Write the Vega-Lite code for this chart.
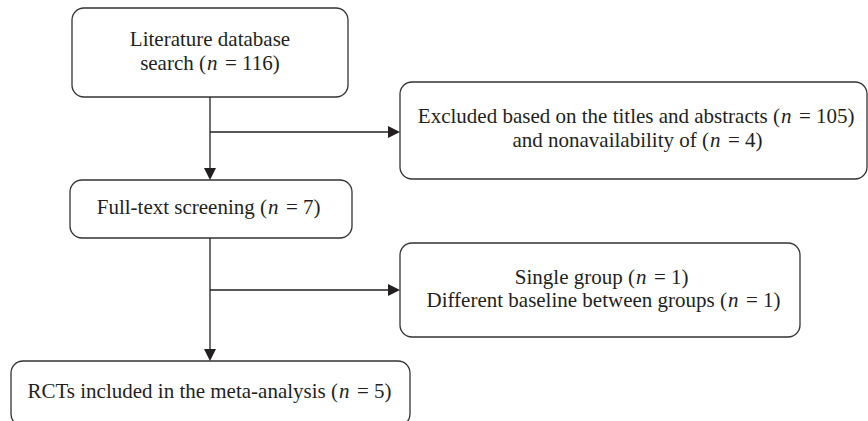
{
  "$schema": "https://vega.github.io/schema/vega-lite/v6.json",
  "width": 868,
  "height": 421,
  "padding": 0,
  "autosize": {"type": "fit", "contains": "padding"},
  "background": "white",
  "config": {"view": {"stroke": null}},
  "datasets": {
    "boxes": [
      {"id": "search", "x1": 72, "x2": 348, "y1": 8, "y2": 97},
      {"id": "excluded", "x1": 400, "x2": 867, "y1": 82, "y2": 179},
      {"id": "fulltext", "x1": 70, "x2": 352, "y1": 180, "y2": 238},
      {"id": "removed", "x1": 400, "x2": 800, "y1": 243, "y2": 337},
      {"id": "included", "x1": 11, "x2": 410, "y1": 361, "y2": 426}
    ],
    "connectors": [
      {"x1": 210, "x2": 210, "y1": 97, "y2": 178},
      {"x1": 210, "x2": 398, "y1": 132, "y2": 132},
      {"x1": 210, "x2": 210, "y1": 238, "y2": 359},
      {"x1": 210, "x2": 398, "y1": 290, "y2": 290}
    ],
    "heads": [
      {"dir": "down", "x": 210, "y": 180},
      {"dir": "right", "x": 400, "y": 132},
      {"dir": "down", "x": 210, "y": 361},
      {"dir": "right", "x": 400, "y": 290}
    ],
    "plain": [
      {"t": "Literature database", "x": 210, "y": 46}
    ],
    "mathlines": [
      {"pre": "search (", "n": "n", "post": "= 116)", "xn": 207, "y": 70},
      {"pre": "Excluded based on the titles and abstracts (", "n": "n", "post": "= 105)", "xn": 781, "y": 123},
      {"pre": "and nonavailability of (", "n": "n", "post": "= 4)", "xn": 710, "y": 147},
      {"pre": "Full-text screening (", "n": "n", "post": "= 7)", "xn": 268, "y": 214},
      {"pre": "Single group (", "n": "n", "post": "= 1)", "xn": 636, "y": 284},
      {"pre": "Different baseline between groups (", "n": "n", "post": "= 1)", "xn": 728, "y": 307},
      {"pre": "RCTs included in the meta-analysis (", "n": "n", "post": "= 5)", "xn": 339, "y": 398}
    ]
  },
  "layer": [
    {
      "data": {"name": "boxes"},
      "mark": {"type": "rect", "fill": "white", "stroke": "#333333", "strokeWidth": 1.3, "cornerRadius": 12, "clip": true},
      "encoding": {
        "x": {"field": "x1", "type": "quantitative", "scale": {"domain": [0, 868], "nice": false, "zero": false}, "axis": null},
        "x2": {"field": "x2"},
        "y": {"field": "y1", "type": "quantitative", "scale": {"domain": [0, 421], "nice": false, "zero": false, "reverse": true}, "axis": null},
        "y2": {"field": "y2"}
      }
    },
    {
      "data": {"name": "connectors"},
      "mark": {"type": "rule", "stroke": "#231f20", "strokeWidth": 1.3},
      "encoding": {
        "x": {"field": "x1", "type": "quantitative"},
        "x2": {"field": "x2"},
        "y": {"field": "y1", "type": "quantitative"},
        "y2": {"field": "y2"}
      }
    },
    {
      "data": {"name": "heads"},
      "transform": [{"filter": "datum.dir === 'down'"}],
      "mark": {"type": "point", "shape": "M-1,-1L1,-1L0,1Z", "filled": true, "color": "#231f20", "opacity": 1, "size": 144, "yOffset": -6},
      "encoding": {
        "x": {"field": "x", "type": "quantitative"},
        "y": {"field": "y", "type": "quantitative"}
      }
    },
    {
      "data": {"name": "heads"},
      "transform": [{"filter": "datum.dir === 'right'"}],
      "mark": {"type": "point", "shape": "M-1,-1L1,0L-1,1Z", "filled": true, "color": "#231f20", "opacity": 1, "size": 144, "xOffset": -6},
      "encoding": {
        "x": {"field": "x", "type": "quantitative"},
        "y": {"field": "y", "type": "quantitative"}
      }
    },
    {
      "data": {"name": "plain"},
      "mark": {"type": "text", "font": "Liberation Serif", "fontSize": 21, "color": "#231f20", "align": "center", "baseline": "alphabetic"},
      "encoding": {
        "x": {"field": "x", "type": "quantitative"},
        "y": {"field": "y", "type": "quantitative"},
        "text": {"field": "t"}
      }
    },
    {
      "data": {"name": "mathlines"},
      "mark": {"type": "text", "font": "Liberation Serif", "fontSize": 21, "color": "#231f20", "align": "right", "baseline": "alphabetic", "dx": -1},
      "encoding": {
        "x": {"field": "xn", "type": "quantitative"},
        "y": {"field": "y", "type": "quantitative"},
        "text": {"field": "pre"}
      }
    },
    {
      "data": {"name": "mathlines"},
      "mark": {"type": "text", "font": "Liberation Serif", "fontSize": 21, "fontStyle": "italic", "color": "#231f20", "align": "left", "baseline": "alphabetic"},
      "encoding": {
        "x": {"field": "xn", "type": "quantitative"},
        "y": {"field": "y", "type": "quantitative"},
        "text": {"field": "n"}
      }
    },
    {
      "data": {"name": "mathlines"},
      "mark": {"type": "text", "font": "Liberation Serif", "fontSize": 21, "color": "#231f20", "align": "left", "baseline": "alphabetic", "dx": 18},
      "encoding": {
        "x": {"field": "xn", "type": "quantitative"},
        "y": {"field": "y", "type": "quantitative"},
        "text": {"field": "post"}
      }
    }
  ]
}
